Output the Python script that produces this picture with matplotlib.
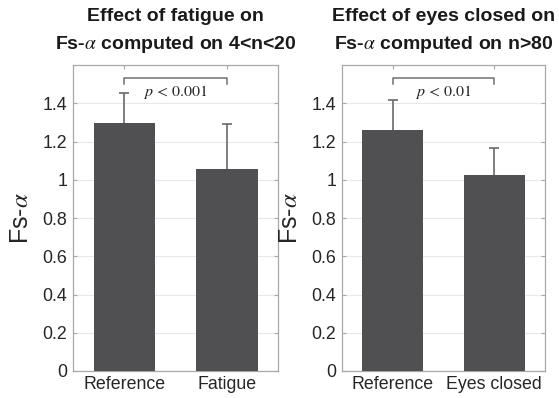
import numpy as np
import matplotlib
matplotlib.use('Agg')
import matplotlib.pyplot as plt

plt.rcParams['font.family'] = ['Liberation Sans', 'DejaVu Sans']
plt.rcParams['mathtext.fontset'] = 'stix'

# data
titles = ['Effect of fatigue on\nFs-$\\alpha$ computed on 4<n<20',
          'Effect of eyes closed on\nFs-$\\alpha$ computed on n>80']
categories = [['Reference', 'Fatigue'], ['Reference', 'Eyes closed']]
means = [[1.30, 1.056], [1.263, 1.025]]
errs = [[0.156, 0.236], [0.153, 0.143]]
pvals = ['$p\\,<\\,0.001$', '$p\\,<\\,0.01$']
yticks = [0, 0.2, 0.4, 0.6, 0.8, 1.0, 1.2, 1.4]
yticklabels = ['0', '0.2', '0.4', '0.6', '0.8', '1', '1.2', '1.4']

bar_color = '#505052'
err_color = '#6a6a6a'
edge_color = '#a8a8a8'
text_color = '#262626'

fig = plt.figure(figsize=(5.59, 3.98), dpi=100)
positions = [[0.1306, 0.068, 0.367, 0.768], [0.6115, 0.068, 0.3637, 0.768]]

for i in range(2):
    ax = fig.add_axes(positions[i])
    x = np.arange(1, 3)
    top = np.array(means[i]) + np.array(errs[i])
    ax.bar(x, means[i], width=0.6, color=bar_color, zorder=3)
    # upper-only error bars
    ax.vlines(x, means[i], top, color=err_color, lw=1.2, zorder=4)
    ax.plot(x, top, ls='none', marker='_', ms=7, mew=1.2, color=err_color, zorder=4)
    # significance bracket
    ax.plot([1, 1, 2, 2], [1.503, 1.532, 1.532, 1.503], color='#707070', lw=1.1, zorder=4)
    ax.text(1.5, 1.462, pvals[i], ha='center', va='center', fontsize=11.5, color=text_color)

    ax.set_xlim(0.5, 2.5)
    ax.set_ylim(0, 1.6)
    ax.set_yticks(yticks)
    ax.set_yticklabels(yticklabels)
    ax.set_xticks(x)
    ax.set_xticklabels(categories[i])
    ax.yaxis.grid(True, color='#e8e8e8', lw=0.8, zorder=0)
    ax.tick_params(direction='in', length=3, color=edge_color, top=True, right=True,
                   labelsize=12.8, labelcolor=text_color, pad=4)
    ax.tick_params(axis='x', pad=4)
    for s in ax.spines.values():
        s.set_color(edge_color)
        s.set_linewidth(0.9)
    ax.set_ylabel('Fs-$\\alpha$', fontsize=18, color=text_color, labelpad=7)
    ax.set_title(titles[i], fontsize=14, fontweight='bold', color='#1a1a1a',
                 linespacing=1.55, pad=12)

fig.savefig('out.png', dpi=100)
